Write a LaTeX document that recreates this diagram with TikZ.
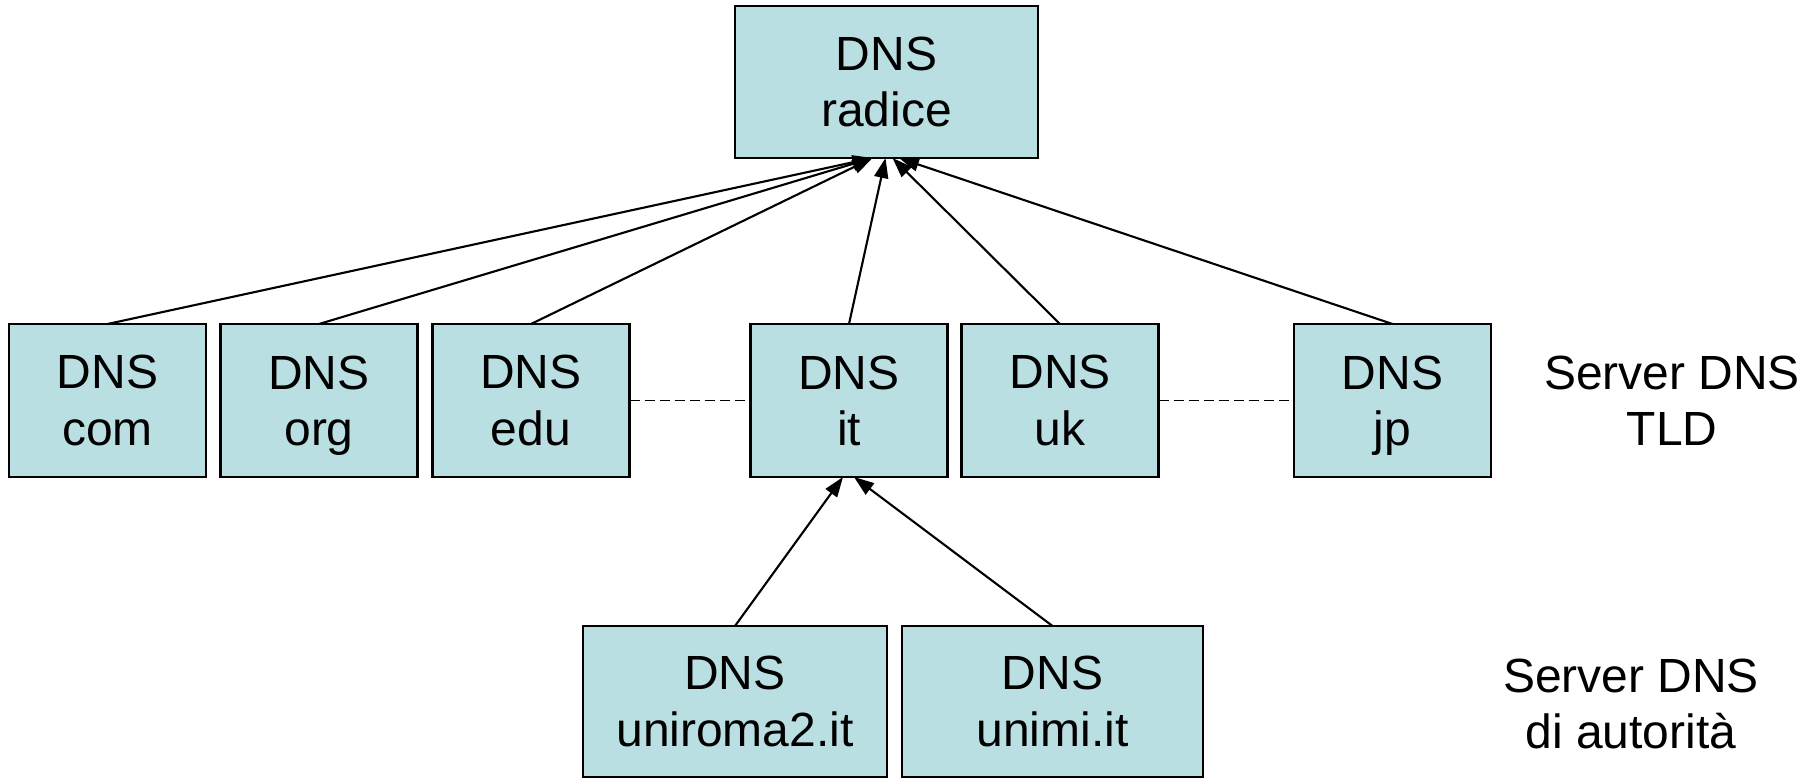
\documentclass[tikz,border=0pt]{standalone}
\usepackage{fontspec}
\setmainfont{Liberation Sans}
\usepackage{tikz}
\usetikzlibrary{arrows.meta}

\definecolor{dnsfill}{RGB}{186,223,227}

\begin{document}
\begin{tikzpicture}[
		dnsbox/.style={draw, fill=dnsfill, line width=1.2pt, align=center, inner sep=0pt, outer sep=0pt,
			minimum width=3.94cm, minimum height=3.06cm, font=\fontsize{27.3}{31.9}\selectfont},
		widebox/.style={dnsbox, minimum width=6.06cm, minimum height=3.04cm},
		tier/.style={align=center, font=\fontsize{27.3}{31.9}\selectfont},
		up/.style={-{Triangle[length=0.4cm, width=0.28cm]}, line width=1.2pt},
		gap/.style={line width=1.1pt, dash pattern=on 0.2cm off 0.1cm}
	]
		\useasboundingbox (0, 0) rectangle (36.36, -15.56);
		%%
		\node[widebox] (radice) at (17.73, -1.64) {DNS\\radice};
		%%
		\node[dnsbox] (com) at (2.15, -8.01) {DNS\\com};
		\node[dnsbox] (org) at (6.38, -8.01) {DNS\\\smash{org}};
		\node[dnsbox] (edu) at (10.62, -8.01) {DNS\\edu};
		\node[dnsbox] (it) at (16.98, -8.01) {DNS\\it};
		\node[dnsbox] (uk) at (21.20, -8.01) {DNS\\uk};
		\node[dnsbox] (jp) at (27.85, -8.01) {DNS\\\smash{jp}};
		%%
		\node[widebox, minimum width=6.08cm, minimum height=3.02cm] (uniroma) at (14.70, -14.03) {DNS\\uniroma2.it};
		\node[widebox, minimum width=6.02cm, minimum height=3.02cm] (unimi) at (21.05, -14.03) {DNS\\unimi.it};
		%%
		\node[tier] (tld) at (33.44, -8.02) {Server DNS\\TLD};
		\node[tier] (auth) at (32.62, -14.08) {Server DNS\\di autorità};
		%%
		\draw[up] (com.north) -- ([xshift=-0.28cm]radice.south);
		\draw[up] (org.north) -- ([xshift=-0.28cm]radice.south);
		\draw[up] (edu.north) -- ([xshift=-0.28cm]radice.south);
		\draw[up] (it.north) -- ([xshift=-0.02cm]radice.south);
		\draw[up] (uk.north) -- ([xshift=0.12cm]radice.south);
		\draw[up] (jp.north) -- ([xshift=0.25cm]radice.south);
		%%
		\draw[up] (uniroma.north) -- ([xshift=-0.12cm]it.south);
		\draw[up] (unimi.north) -- ([xshift=0.1cm]it.south);
		%%
		\draw[gap] (edu.east) -- (it.west);
		\draw[gap] (uk.east) -- (jp.west);
	\end{tikzpicture}
\end{document}
